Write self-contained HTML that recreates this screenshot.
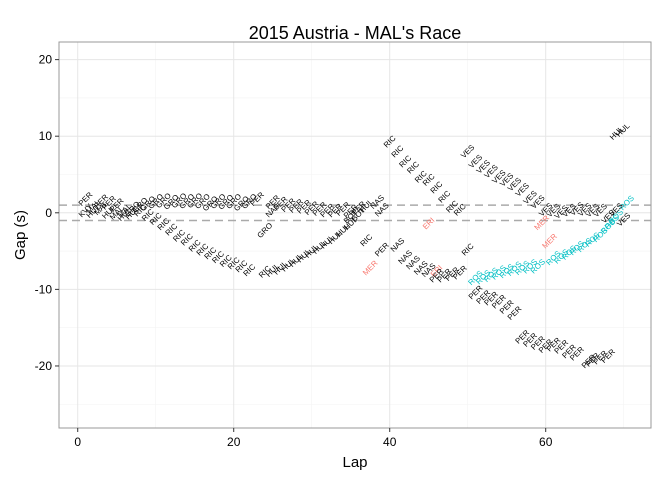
<!DOCTYPE html>
<html><head><meta charset="utf-8"><style>
body{margin:0;background:#fff;width:672px;height:480px;overflow:hidden}
svg{font-family:"Liberation Sans",sans-serif}
</style></head><body>
<svg id="chart" width="672" height="480" xmlns="http://www.w3.org/2000/svg">
<text x="355" y="39" text-anchor="middle" font-size="18">2015 Austria - MAL's Race</text>
<g id="grid"></g>
<g id="marks"></g>
<rect x="59" y="42" width="592" height="386" fill="none" stroke="#999" stroke-width="1"/>
<g id="axes"></g>
<text x="355" y="467" text-anchor="middle" font-size="15">Lap</text>
<text transform="translate(25,235) rotate(-90)" text-anchor="middle" font-size="15">Gap (s)</text>
</svg>
<script>
const xTicks=[0,20,40,60];
const xMinor=[10,30,50,70];
const yTicks=[20,10,0,-10,-20];
const yMinor=[15,5,-5,-15,-25];
const refLines=[1,-1];
const labels=["PER","KVY","MAL","HUL","PER","MAL","HUL","PER","MAL","PER","HUL","MAL","HUL","GRO","GRO","RIC",
"GRO","GRO","GRO","GRO","GRO","GRO","GRO","GRO","GRO","GRO","GRO","GRO","GRO","GRO",
"RIC","RIC","RIC","RIC","RIC","RIC","RIC","RIC","RIC","RIC","RIC","RIC","RIC","RIC",
"PER","GRO","NAS","PER","PER","PER","PER","PER","PER","PER","PER","PER","PER","PER",
"RIC","HUL","HUL","HUL","HUL","HUL","HUL","HUL","HUL","HUL","HUL","HUL",
"BOT","BOT","PER","HUL","NAS","NAS",
"RIC","RIC","RIC","RIC","RIC","RIC","RIC","RIC","RIC","RIC","RIC","RIC",
"MER","ERI","ERI","MER","MER",
"PER","NAS","NAS","NAS","NAS","NAS","PER","PER","PER","PER",
"PER","PER","PER","PER","PER","PER",
"PER","PER","PER","PER","PER","PER","PER","PER","PER","PER","PER","PER",
"ROS","ROS","ROS","ROS","ROS","ROS","ROS","ROS","ROS",
"ROS","ROS","ROS","ROS","ROS","ROS","ROS","ROS","ROS","ROS","ROS",
"VES","VES","VES","VES","VES","VES","VES","VES","VES","VES","VES","VES","VES","VES","VES","VES","VES","VES","VES","VES","VES",
"HUL","HUL"];
const laps=[1,1,2,2,3,3,4,4,5,5,6,6,7,7,8,8,
9,10,11,12,13,14,15,16,17,18,19,20,21,22,
9,10,11,12,13,14,15,16,17,18,19,20,21,22,
23,24,25,25,26,27,28,29,30,31,32,33,34,35,
24,25,26,27,28,29,30,31,32,33,34,35,
35,36,36,37,38.4,39,
40,41,42,43,44,45,46,47,48,49,37,50,
37.5,45,46,59.5,60.5,
39,41,42,43,44,45,46,47,48,49,
51,52,53,54,55,56,
57,58,59,60,61,62,63,64,65.5,66,67,68,
51,52,53,54,55,56,57,58,59,
61,62,63,64,65,66,67,68,68.5,69,70.4,
50,51,52,53,54,55,56,57,58,59,60,61,62,63,64,65,66,67,68,69,70,
69.1,69.9];
const gaps=[1.8,0.3,0.8,0.2,1.5,0.6,0.1,1.3,0.0,1.0,-0.2,0.3,0.0,0.5,1.0,0.3,
1.2,1.5,1.6,1.4,1.6,1.5,1.6,1.5,1.2,1.5,1.4,1.5,1.2,1.5,
-0.3,-0.8,-1.5,-2.2,-3.0,-3.5,-4.3,-4.8,-5.3,-5.8,-6.3,-6.6,-7.0,-7.5,
1.8,-2.3,0.3,1.4,1.2,1.0,0.9,0.8,0.6,0.5,0.3,0.3,0.5,0.2,
-7.7,-7.5,-7.2,-6.8,-6.2,-5.6,-5.0,-4.5,-3.8,-3.2,-2.3,-1.4,
-0.5,-0.2,0.6,0.9,1.4,0.4,
9.3,8.0,6.7,5.9,4.7,4.3,3.3,2.1,0.8,0.4,-3.6,-4.8,
-7.2,-1.4,-7.6,-1.3,-3.7,
-4.8,-4.2,-5.8,-6.5,-7.2,-7.5,-8.2,-8.2,-8.0,-7.8,
-10.4,-11.0,-11.2,-11.6,-12.3,-13.1,
-16.2,-16.6,-17.0,-17.4,-17.2,-17.5,-18.1,-18.4,-19.4,-19.2,-18.9,-18.7,
-8.5,-8.4,-8.1,-7.8,-7.6,-7.3,-7.2,-7.0,-7.0,
-5.9,-5.7,-5.2,-4.6,-4.2,-3.5,-2.9,-1.8,-1.2,-0.5,1.3,
8.0,6.7,6.0,5.4,4.7,4.3,3.7,3.0,2.0,1.4,0.4,0.3,0.1,0.3,0.5,0.4,0.3,0.3,-0.5,0.4,-0.9,
10.4,10.8];
const NS="http://www.w3.org/2000/svg";
const X0=59,X1=651,Y0=42,Y1=428,XMIN=-2.4,XMAX=73.5,YMIN=-28.1,YMAX=22.3;
const xs=v=>X0+(v-XMIN)/(XMAX-XMIN)*(X1-X0);
const ys=v=>Y1-(v-YMIN)/(YMAX-YMIN)*(Y1-Y0);
function mk(t,a,p){const e=document.createElementNS(NS,t);for(const k in a)e.setAttribute(k,a[k]);p.appendChild(e);return e;}
const grid=document.getElementById('grid'),marks=document.getElementById('marks'),axes=document.getElementById('axes');
xMinor.forEach(v=>{const l=mk('line',{x1:xs(v),x2:xs(v),y1:Y0,y2:Y1,stroke:'#f3f3f3','stroke-width':0.6},grid);

});
yMinor.forEach(v=>{const l=mk('line',{x1:X0,x2:X1,y1:ys(v),y2:ys(v),stroke:'#f3f3f3','stroke-width':0.6},grid);

});
xTicks.forEach(v=>{const l=mk('line',{x1:xs(v),x2:xs(v),y1:Y0,y2:Y1,stroke:'#e6e6e6','stroke-width':1},grid);


const t=mk('line',{x1:xs(v),x2:xs(v),y1:Y1,y2:Y1+4,stroke:'#333'},axes);


const tx=mk('text',{x:xs(v),y:Y1+18,'text-anchor':'middle','font-size':12,fill:'#000'},axes);tx.textContent=v;

});
yTicks.forEach(v=>{const l=mk('line',{x1:X0,x2:X1,y1:ys(v),y2:ys(v),stroke:'#e6e6e6','stroke-width':1},grid);


const t=mk('line',{x1:X0-4,x2:X0,y1:ys(v),y2:ys(v),stroke:'#333'},axes);


const tx=mk('text',{x:X0-7,y:ys(v)+4,'text-anchor':'end','font-size':12,fill:'#000'},axes);tx.textContent=v;

});
refLines.forEach(v=>{const l=mk('line',{x1:X0,x2:X1,y1:ys(v),y2:ys(v),stroke:'#aaa','stroke-width':1.5,'stroke-dasharray':'8,5'},grid);

});
const colorOf=s=>s==='ROS'?'#00BFC4':(s==='MER'||s==='ERI')?'#F8766D':'#000';
labels.forEach((s,i)=>{const x=xs(laps[i]),y=ys(gaps[i]);
const t=mk('text',{x:x,y:y,'text-anchor':'middle','dominant-baseline':'central','font-size':7.8,fill:colorOf(s),transform:`rotate(-45 ${x} ${y})`},marks);
t.textContent=s;

});
</script>
</body></html>
